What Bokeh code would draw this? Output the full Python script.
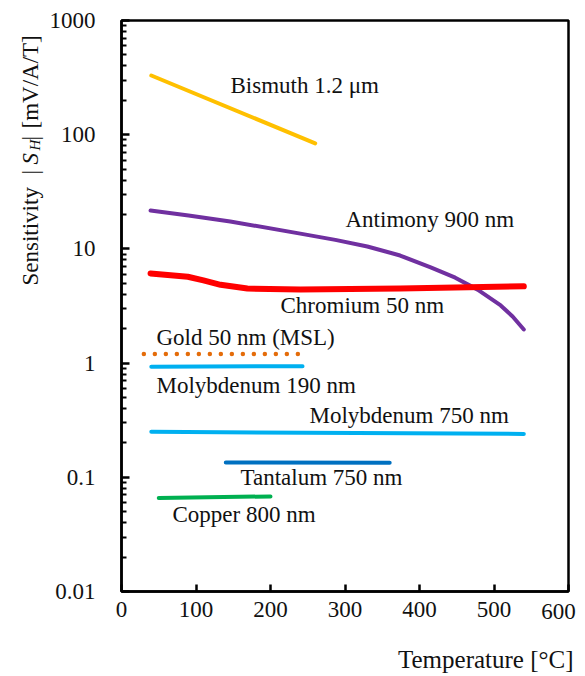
import math
from bokeh.plotting import figure
from bokeh.models import Range1d, FixedTicker, CustomJSTickFormatter, Label
from bokeh.embed import file_html
from bokeh.resources import INLINE

# ---------------- data ----------------
bismuth_x = [40, 260]
bismuth_y = [330, 84]

antimony_x = [39, 90, 146, 240, 287, 330, 374, 415, 448, 478, 509, 525, 540]
antimony_y = [21.7, 19.6, 17.4, 13.6, 12.0, 10.5, 8.75, 6.9, 5.6, 4.4, 3.2, 2.56, 1.97]

chromium_x = [39, 89, 110, 133, 169, 240, 374, 540]
chromium_y = [6.1, 5.7, 5.3, 4.85, 4.5, 4.4, 4.5, 4.7]

gold_x = [30, 245]
gold_y = [1.2, 1.2]

moly190_x = [40, 243]
moly190_y = [0.93, 0.94]

moly750_x = [40, 540]
moly750_y = [0.25, 0.24]

tantalum_x = [140, 360]
tantalum_y = [0.135, 0.134]

copper_x = [50, 200]
copper_y = [0.066, 0.068]

x_ticks = [0, 100, 200, 300, 400, 500, 600]
y_ticks = [0.01, 0.1, 1, 10, 100, 1000]
y_minor = [k * 10.0 ** d for d in range(-2, 3) for k in range(2, 10)]

FONT = "Liberation Serif"
TXT = "#111111"

# ---------------- layout ----------------
# The frame covers the whole canvas; the chart box (0..600, 0.01..1000)
# is drawn inside it with axes pinned by fixed_location.
W, H = 585, 676
BL, BR, BT, BB = 121, 568, 20, 591   # box edges in canvas pixels

X0, X1 = x_ticks[0], x_ticks[-1]
LY0, LY1 = math.log10(y_ticks[0]), math.log10(y_ticks[-1])


def dx(px):
    return X0 + (px - BL) / (BR - BL) * (X1 - X0)


def dy(py):
    return 10 ** (LY1 - (py - BT) / (BB - BT) * (LY1 - LY0))


p = figure(width=W, height=H, output_backend="svg", toolbar_location=None,
           x_range=Range1d(dx(0), dx(W)), y_range=Range1d(dy(H), dy(0)),
           y_axis_type="log")
p.min_border = 0
p.title.visible = False
p.background_fill_color = "white"
p.border_fill_color = "white"
p.outline_line_color = None
p.grid.visible = False

for ax in (p.xaxis[0], p.yaxis[0]):
    ax.axis_line_width = 2.5
    ax.axis_line_color = "black"
    ax.major_tick_line_width = 2.5
    ax.major_tick_line_color = "black"
    ax.major_tick_out = 0
    ax.major_label_text_font = FONT
    ax.major_label_text_font_size = "23px"
    ax.major_label_text_color = TXT

p.xaxis.fixed_location = y_ticks[0]
p.xaxis.bounds = (X0, X1)
p.xaxis.ticker = FixedTicker(ticks=x_ticks)
p.xaxis.formatter = CustomJSTickFormatter(
    code="return tick == %d ? '' : tick.toString();" % x_ticks[-1])
p.xaxis.major_tick_in = 7
p.xaxis.minor_tick_line_color = None
p.xaxis.major_label_standoff = 10

p.yaxis.fixed_location = X0
p.yaxis.bounds = (y_ticks[0], y_ticks[-1])
p.yaxis.ticker = FixedTicker(ticks=y_ticks, minor_ticks=y_minor)
p.yaxis.formatter = CustomJSTickFormatter(code="return tick.toString();")
p.yaxis.major_tick_in = 8
p.yaxis.minor_tick_in = 5
p.yaxis.minor_tick_out = 0
p.yaxis.minor_tick_line_width = 2
p.yaxis.minor_tick_line_color = "black"
p.yaxis.major_label_standoff = 26

# chart box (top and right edges)
p.quad(left=X0, right=X1, bottom=y_ticks[0], top=y_ticks[-1],
       fill_color=None, line_color="black", line_width=2.5)

# ---------------- series ----------------
p.line(bismuth_x, bismuth_y, line_color="#FFC000", line_width=4, line_cap="round")
p.line(antimony_x, antimony_y, line_color="#7030A0", line_width=4, line_cap="round", line_join="round")
p.line(chromium_x, chromium_y, line_color="#FF0000", line_width=6, line_cap="round", line_join="round")
p.line(gold_x, gold_y, line_color="#E46C0A", line_width=4.5, line_cap="round", line_dash="0 11")
p.line(moly190_x, moly190_y, line_color="#00B0F0", line_width=4, line_cap="round")
p.line(moly750_x, moly750_y, line_color="#00B0F0", line_width=4, line_cap="round")
p.line(tantalum_x, tantalum_y, line_color="#0070C0", line_width=4, line_cap="round")
p.line(copper_x, copper_y, line_color="#00B050", line_width=4, line_cap="round")

SHIFT = 8  # baseline correction (px)


def lab(text, px, py, size="23px", style="normal", align="left", angle=0.0):
    if angle:
        px = px - SHIFT
    else:
        py = py - SHIFT
    p.add_layout(Label(x=dx(px), y=dy(py), text=text, text_font=FONT,
                       text_font_size=size, text_font_style=style,
                       text_align=align, text_baseline="alphabetic",
                       text_color=TXT, angle=angle))


# series labels
lab("Bismuth 1.2 \u03bcm", 230, 93)
lab("Antimony 900 nm", 345, 227)
lab("Chromium 50 nm", 280, 313)
lab("Gold 50 nm (MSL)", 156, 345)
lab("Molybdenum 190 nm", 156, 393)
lab("Molybdenum 750 nm", 309, 423)
lab("Tantalum 750 nm", 240, 485)
lab("Copper 800 nm", 172, 522)

# last x tick label, pulled inside the canvas as in the original
lab(str(x_ticks[-1]), 558, 619, align="center")

# axis titles
lab("Temperature [\u00b0C]", 573, 667, size="25px", align="right")
A = math.pi / 2
lab("Sensitivity", 38, 285, angle=A)
lab("|", 38, 174, angle=A)
lab("S", 38, 164, style="italic", angle=A)
lab("H", 42, 150, size="15px", style="italic", angle=A)
lab("|", 38, 140, angle=A)
lab("[mV/A/T]", 38, 128, angle=A)

open("out.html", "w").write(file_html(p, INLINE))
